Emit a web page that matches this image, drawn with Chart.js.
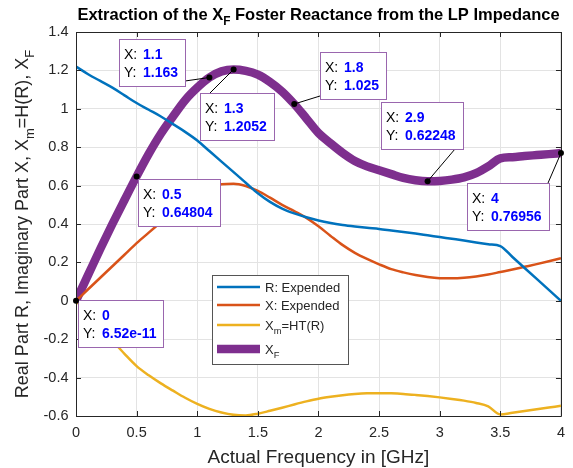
<!DOCTYPE html>
<html>
<head>
<meta charset="utf-8">
<script src="https://cdn.jsdelivr.net/npm/chart.js@4"></script>
<style>
  html, body { margin: 0; padding: 0; background: #fff; }
</style>
</head>
<body>
<canvas id="myChart" width="573" height="468"></canvas>
<script>
// frequency samples, GHz
const freq = [0, 0.1, 0.2, 0.3, 0.4, 0.5, 0.6, 0.7, 0.8, 0.9,
  1, 1.1, 1.2, 1.3, 1.4, 1.5, 1.6, 1.7, 1.8, 1.9,
  2, 2.1, 2.2, 2.3, 2.4, 2.5, 2.6, 2.7, 2.8, 2.9,
  3, 3.1, 3.2, 3.3, 3.4, 3.5, 3.6, 3.7, 3.8, 3.9, 4];

// real part R (expended)
const rExp = [1.22, 1.18, 1.145, 1.11, 1.07, 1.03, 0.995, 0.96, 0.92, 0.88,
  0.835, 0.78, 0.725, 0.67, 0.615, 0.56, 0.515, 0.48, 0.455, 0.435,
  0.418, 0.405, 0.395, 0.387, 0.38, 0.374, 0.366, 0.358, 0.35, 0.341,
  0.332, 0.323, 0.314, 0.304, 0.295, 0.285, 0.228, 0.171, 0.114, 0.057, 0];

// imaginary part X (expended)
const xExp = [0, 0.06, 0.12, 0.18, 0.24, 0.30, 0.355, 0.41, 0.465, 0.515,
  0.56, 0.59, 0.607, 0.61, 0.598, 0.572, 0.537, 0.50, 0.467, 0.432,
  0.388, 0.338, 0.29, 0.25, 0.218, 0.19, 0.165, 0.148, 0.134, 0.124,
  0.118, 0.117, 0.12, 0.127, 0.137, 0.15, 0.163, 0.177, 0.191, 0.206, 0.222];

// Xm = Hilbert transform of R
const xmHT = [0, -0.069, -0.138, -0.207, -0.276, -0.34, -0.388, -0.43, -0.468, -0.505,
  -0.537, -0.563, -0.582, -0.594, -0.597, -0.588, -0.573, -0.557, -0.54, -0.524,
  -0.51, -0.5, -0.492, -0.486, -0.482, -0.481, -0.482, -0.485, -0.49, -0.496,
  -0.503, -0.511, -0.52, -0.532, -0.55, -0.592, -0.583, -0.574, -0.565, -0.556, -0.547];

// Foster reactance XF
const xFoster = [6.52e-11, 0.135, 0.27, 0.4, 0.525, 0.64804, 0.765, 0.87, 0.96, 1.045,
  1.11, 1.163, 1.195, 1.2052, 1.198, 1.178, 1.14, 1.09, 1.025, 0.95,
  0.874, 0.82, 0.77, 0.728, 0.70, 0.68, 0.66, 0.64, 0.628, 0.62248,
  0.624, 0.631, 0.643, 0.665, 0.70, 0.742, 0.748, 0.754, 0.759, 0.764, 0.76956];

const xTicks = [0, 0.5, 1, 1.5, 2, 2.5, 3, 3.5, 4];
const yTicks = [-0.6, -0.4, -0.2, 0, 0.2, 0.4, 0.6, 0.8, 1, 1.2, 1.4];

// frequencies that carry a data tip on the XF curve
const tipFreqs = [0, 0.5, 1.1, 1.3, 1.8, 2.9, 4];
// where each tip box sits relative to its point, and where the leader meets the box
const tipLayout = [
  { dx: 2, dy: -1, ax: 0, ay: 0 },
  { dx: 1, dy: 3, ax: 0, ay: 0 },
  { dx: -90, dy: -39, ax: 66, ay: 42 },
  { dx: -34, dy: 24, ax: 10, ay: 0 },
  { dx: 26, dy: -52, ax: 0, ay: 44 },
  { dx: -47, dy: -79, ax: 74, ay: 47 },
  { dx: -94, dy: 30, ax: 81, ay: 0 }
];

const FONT = '"Liberation Sans", Arial, Helvetica, sans-serif';
const INK = '#262626';

function pts(ys) {
  return freq.map((f, i) => ({ x: f, y: ys[i] }));
}

// MATLAB-like 5 significant digits
function fmt(v) {
  let s = v.toPrecision(5);
  if (s.indexOf('e') >= 0) {
    let [m, e] = s.split('e');
    m = m.replace(/\.?0+$/, '');
    return m + 'e' + e;
  }
  if (s.indexOf('.') >= 0) s = s.replace(/\.?0+$/, '');
  return s;
}

// text runs with subscripts: [[text, isSub], ...]
function drawRich(ctx, parts, x, y, size, weight, align) {
  const sub = size * 0.72;
  let w = 0;
  parts.forEach(([t, s]) => {
    ctx.font = `${weight} ${s ? sub : size}px ${FONT}`;
    w += ctx.measureText(t).width;
  });
  let cx = align === 'center' ? x - w / 2 : x;
  ctx.textAlign = 'left';
  ctx.textBaseline = 'alphabetic';
  parts.forEach(([t, s]) => {
    ctx.font = `${weight} ${s ? sub : size}px ${FONT}`;
    ctx.fillText(t, cx, y + (s ? size * 0.32 : 0));
    cx += ctx.measureText(t).width;
  });
}

const legendRows = [
  { ds: 0, parts: [['R: Expended', 0]] },
  { ds: 1, parts: [['X: Expended', 0]] },
  { ds: 2, parts: [['X', 0], ['m', 1], ['=HT(R)', 0]] },
  { ds: 3, parts: [['X', 0], ['F', 1]] }
];

const decor = {
  id: 'decor',
  afterDatasetsDraw(chart) {
    const ctx = chart.ctx;
    const a = chart.chartArea;
    const xs = chart.scales.x, ys = chart.scales.y;
    ctx.save();

    // axes box with inward ticks on all sides
    ctx.strokeStyle = INK;
    ctx.lineWidth = 1;
    ctx.beginPath();
    ctx.rect(Math.round(a.left) + 0.5, Math.round(a.top) + 0.5,
      Math.round(a.right - a.left), Math.round(a.bottom - a.top));
    xTicks.forEach(v => {
      const px = Math.round(xs.getPixelForValue(v)) + 0.5;
      ctx.moveTo(px, a.bottom); ctx.lineTo(px, a.bottom - 5);
      ctx.moveTo(px, a.top); ctx.lineTo(px, a.top + 5);
    });
    yTicks.forEach(v => {
      const py = Math.round(ys.getPixelForValue(v)) + 0.5;
      ctx.moveTo(a.left, py); ctx.lineTo(a.left + 5, py);
      ctx.moveTo(a.right, py); ctx.lineTo(a.right - 5, py);
    });
    ctx.stroke();

    // legend
    const lx = 212, ly = 275, lw = 136, lh = 89;
    const rowY = [12, 30, 50, 74];
    ctx.fillStyle = '#fff';
    ctx.fillRect(lx, ly, lw, lh);
    ctx.strokeStyle = '#555';
    ctx.lineWidth = 1;
    ctx.strokeRect(lx + 0.5, ly + 0.5, lw, lh);
    legendRows.forEach((row, i) => {
      const ds = chart.data.datasets[row.ds];
      const y = ly + rowY[i];
      ctx.strokeStyle = ds.borderColor;
      ctx.lineWidth = ds.borderWidth;
      ctx.lineCap = 'butt';
      ctx.beginPath();
      ctx.moveTo(lx + 5, y); ctx.lineTo(lx + 48, y);
      ctx.stroke();
      ctx.fillStyle = INK;
      drawRich(ctx, row.parts, lx + 53, y + 4.5, 13, 'normal', 'left');
    });

    // data tips on the XF curve
    tipFreqs.forEach((f, k) => {
      const i = freq.indexOf(f);
      const v = xFoster[i];
      const px = xs.getPixelForValue(f), py = ys.getPixelForValue(v);
      const L = tipLayout[k];
      const sx = String(f), sy = fmt(v);
      ctx.font = `bold 14px ${FONT}`;
      const vw = Math.max(ctx.measureText(sx).width, ctx.measureText(sy).width);
      const bw = Math.round(31 + vw), bh = 47;
      const bx = Math.round(px + L.dx), by = Math.round(py + L.dy);
      // leader
      ctx.strokeStyle = '#000';
      ctx.lineWidth = 1;
      ctx.beginPath();
      ctx.moveTo(px, py);
      ctx.lineTo(bx + Math.min(L.ax, bw), by + L.ay);
      ctx.stroke();
      // box
      ctx.fillStyle = '#fff';
      ctx.fillRect(bx, by, bw, bh);
      ctx.strokeStyle = '#9a66ae';
      ctx.strokeRect(bx + 0.5, by + 0.5, bw, bh);
      // text
      ctx.textAlign = 'left';
      ctx.textBaseline = 'alphabetic';
      ctx.font = `14px ${FONT}`;
      ctx.fillStyle = '#000';
      ctx.fillText('X:', bx + 5, by + 20);
      ctx.fillText('Y:', bx + 5, by + 38);
      ctx.font = `bold 14px ${FONT}`;
      ctx.fillStyle = '#0000ff';
      ctx.fillText(sx, bx + 24, by + 20);
      ctx.fillText(sy, bx + 24, by + 38);
      // marker
      ctx.fillStyle = '#000';
      ctx.beginPath();
      ctx.arc(px, py, 3, 0, Math.PI * 2);
      ctx.fill();
    });
    ctx.restore();
  },
  afterDraw(chart) {
    const ctx = chart.ctx;
    const a = chart.chartArea;
    const cx = (a.left + a.right) / 2;
    ctx.save();
    ctx.fillStyle = '#000';
    drawRich(ctx, [['Extraction of the X', 0], ['F', 1], [' Foster Reactance from the LP Impedance', 0]],
      cx, 20, 16.5, 'bold', 'center');
    ctx.fillStyle = INK;
    drawRich(ctx, [['Actual Frequency in [GHz]', 0]], cx, 463, 19, 'normal', 'center');
    ctx.translate(22, (a.top + a.bottom) / 2);
    ctx.rotate(-Math.PI / 2);
    drawRich(ctx, [['Real Part R, Imaginary Part X, X', 0], ['m', 1], ['=H(R), X', 0], ['F', 1]],
      0, 6, 18, 'normal', 'center');
    ctx.restore();
  }
};

const lineStyle = {
  pointRadius: 0,
  fill: false,
  cubicInterpolationMode: 'monotone',
  borderCapStyle: 'butt',
  borderJoinStyle: 'round',
  clip: 0
};

new Chart('myChart', {
  type: 'line',
  data: {
    datasets: [
      { label: 'R: Expended', data: pts(rExp), borderColor: '#0072BD', borderWidth: 2.5, ...lineStyle },
      { label: 'X: Expended', data: pts(xExp), borderColor: '#D95319', borderWidth: 2.5, ...lineStyle },
      { label: 'Xm=HT(R)', data: pts(xmHT), borderColor: '#EDB120', borderWidth: 2.5, ...lineStyle },
      { label: 'XF', data: pts(xFoster), borderColor: '#7E2F8E', borderWidth: 8.5, ...lineStyle }
    ]
  },
  options: {
    responsive: false,
    devicePixelRatio: 1,
    animation: false,
    events: [],
    layout: { padding: { top: 32, right: 10, bottom: 0, left: 0 } },
    plugins: { legend: { display: false }, title: { display: false }, tooltip: { enabled: false } },
    scales: {
      x: {
        type: 'linear', min: 0, max: 4,
        afterBuildTicks: s => { s.ticks = xTicks.map(v => ({ value: v })); },
        afterFit: s => { s.height = 52; },
        grid: { color: '#e3e3e3', drawTicks: false },
        border: { display: false },
        ticks: { color: INK, font: { family: FONT, size: 14.5 }, padding: 8, maxRotation: 0,
          callback: v => String(v) }
      },
      y: {
        type: 'linear', min: -0.6, max: 1.4,
        afterBuildTicks: s => { s.ticks = yTicks.map(v => ({ value: v })); },
        afterFit: s => { s.width = 76; },
        grid: { color: '#e3e3e3', drawTicks: false },
        border: { display: false },
        ticks: { color: INK, font: { family: FONT, size: 14.5 }, padding: 7.5,
          callback: v => String(v) }
      }
    }
  },
  plugins: [decor]
});
</script>
</body>
</html>
